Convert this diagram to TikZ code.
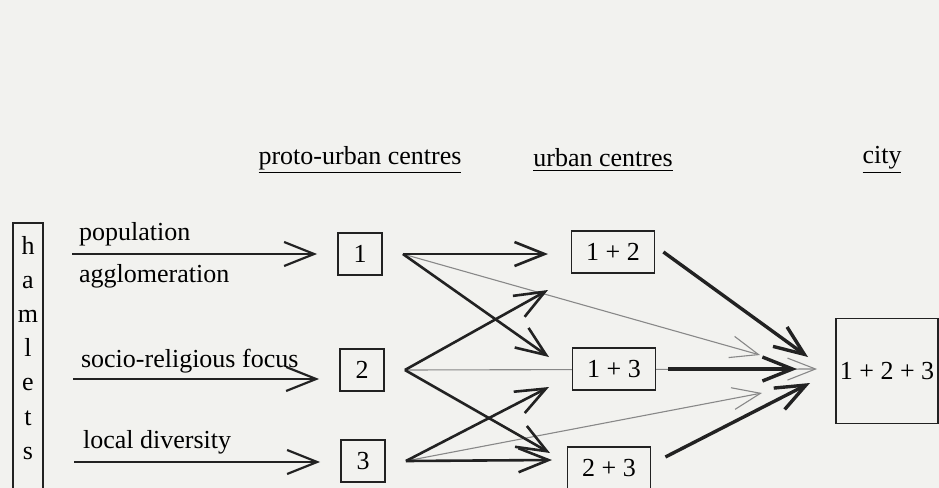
\documentclass[tikz,border=0pt]{standalone}
\usepackage{fontspec}
\setmainfont{Liberation Serif}
\usetikzlibrary{arrows.meta,backgrounds}
\definecolor{paper}{HTML}{F2F2EF}
\definecolor{ink}{HTML}{222222}
\definecolor{faint}{HTML}{888888}

\begin{document}
\begin{tikzpicture}[x=0.5pt,y=-0.5pt,font=\fontsize{13}{15}\selectfont,
  box/.style={draw=ink,fill=paper,line width=0.9pt,minimum width=22pt,minimum height=21pt,inner sep=1pt},
  ubox/.style={box,minimum width=41.5pt},
  feed/.style={draw=ink,line width=1.1pt,-{Straight Barb[length=15pt,width=12pt]}},
  link/.style={draw=ink,line width=1.3pt,-{Straight Barb[length=15pt,width=12pt]}},
  merge/.style={draw=ink,line width=1.7pt,-{Straight Barb[length=15pt,width=12pt]}},
  trace/.style={draw=faint,line width=0.55pt,-{Straight Barb[length=14pt,width=11pt]}}]
  \useasboundingbox (0,0) rectangle (939,488);

  \node (hproto) at (360,160) {\underline{proto-urban centres}};
  \node (hurban) at (603,160) {\underline{urban centres}};
  \node (hcity) at (882,160) {\underline{city}};

  \draw[ink,line width=0.9pt] (13,500) -- (13,223) -- (43,223) -- (43,500);
  \foreach \ch [count=\i] in {h,a,m,l,e,t,s}
    \node[anchor=base] (ham\i) at (28,{254+34.2*(\i-1)}) {\ch};

  \node[anchor=base west] (lpop) at (72,240) {population};
  \node[anchor=base west] (lagg) at (72,282) {agglomeration};
  \node[anchor=base west] (lsoc) at (74,367) {socio-religious focus};
  \node[anchor=base west] (lloc) at (76,448) {local diversity};

  \node[box] (b1) at (360,254) {1};
  \node[box] (b2) at (362,370) {2};
  \node[box] (b3) at (363,461) {3};
  \node[ubox] (u12) at (613,252) {1 + 2};
  \node[ubox] (u13) at (614,369) {1 + 3};
  \node[ubox] (u23) at (609,468) {2 + 3};
  \node[box,minimum width=51pt,minimum height=52.5pt] (city) at (887,371) {1 + 2 + 3};

  \coordinate (src1) at (72,254);
  \coordinate (src2) at (73,379);
  \coordinate (src3) at (74,462);
  \coordinate (in12a) at (548,254);
  \coordinate (in13a) at (549,357);
  \coordinate (in12b) at (548,290);
  \coordinate (in23a) at (550,453);
  \coordinate (in13b) at (549,387);
  \coordinate (in23b) at (552,460);
  \coordinate (cityA) at (808,357);
  \coordinate (cityB) at (797,369);
  \coordinate (cityC) at (810,383);
  \coordinate (thinA) at (760,355);
  \coordinate (thinB) at (817,369);
  \coordinate (thinC) at (762,393);

  \begin{scope}[on background layer]
    \fill[paper] (0,0) rectangle (939,488);
    \draw[trace] ([xshift=10pt]b1.east) -- (thinA);
    \draw[trace] ([xshift=10pt]b2.east) -- (thinB);
    \draw[trace] ([xshift=10pt]b3.east) -- (thinC);
    \draw[feed,shorten >=10pt] (src1) -- (src1 -| b1.west);
    \draw[feed,shorten >=10pt] (src2) -- (src2 -| b2.west);
    \draw[feed,shorten >=10pt] (src3) -- (src3 -| b3.west);
    \draw[link] ([xshift=10pt]b1.east) -- (in12a);
    \draw[link] ([xshift=10pt]b1.east) -- (in13a);
    \draw[link] ([xshift=10pt]b2.east) -- (in12b);
    \draw[link] ([xshift=10pt]b2.east) -- (in23a);
    \draw[link] ([xshift=10pt]b3.east) -- (in13b);
    \draw[link] ([xshift=10pt]b3.east) -- (in23b);
    \draw[merge] ([xshift=4pt]u12.east) -- (cityA);
    \draw[merge] ([xshift=6pt]u13.east) -- (cityB);
    \draw[merge] ([xshift=7pt,yshift=5.5pt]u23.east) -- (cityC);
  \end{scope}
\end{tikzpicture}
\end{document}
